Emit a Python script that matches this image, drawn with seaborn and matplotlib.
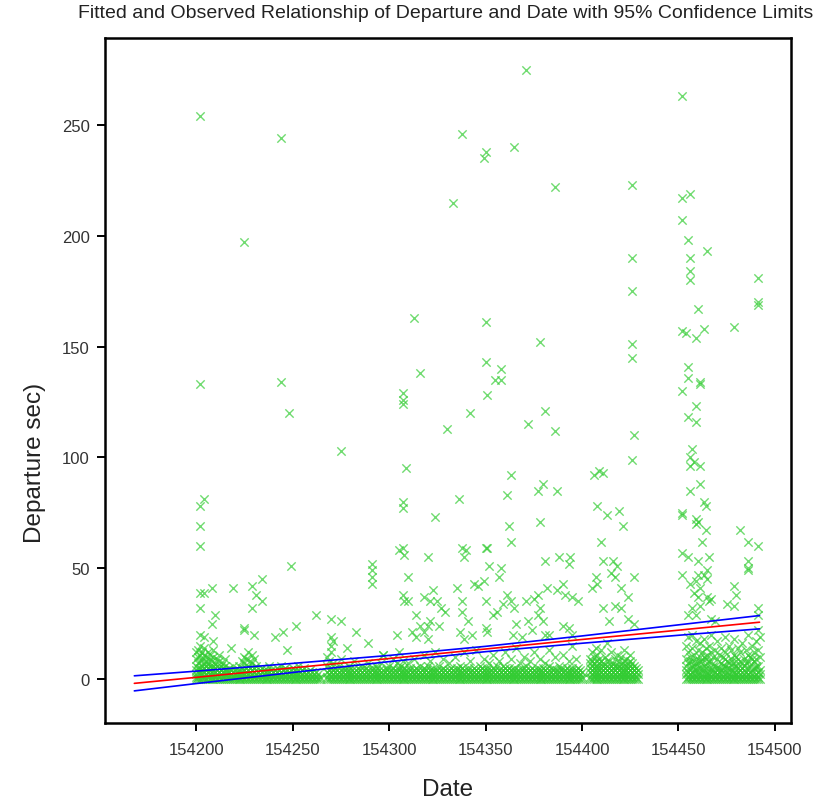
import matplotlib
matplotlib.use("Agg")
import pandas as pd
import matplotlib.pyplot as plt
import seaborn as sns

# outliers above the dense band, (date, departure sec)
outliers_early = [
    (154202, 254), (154244, 244), (154225, 197), (154202, 133), (154244, 134), (154248, 120), (154275, 103),
    (154204, 81), (154202, 78), (154202, 69), (154202, 60), (154202, 39), (154204, 39), (154208, 41),
    (154202, 32), (154210, 29), (154208, 25), (154219, 41), (154229, 42), (154234, 45), (154231, 38),
    (154234, 35), (154229, 32), (154249, 51), (154291, 52), (154291, 49), (154291, 46), (154291, 43),
    (154262, 29), (154270, 27), (154275, 26), (154283, 21), (154252, 24), (154245, 21), (154241, 19),
    (154225, 23), (154225, 22), (154230, 20), (154202, 20), (154204, 19), (154209, 17), (154218, 14),
    (154247, 13), (154289, 16), (154297, 11), (154270, 19), (154271, 17), (154270, 15), (154278, 14),
]
outliers_mid = [
    (154371, 275), (154338, 246), (154350, 238), (154349, 235), (154365, 240), (154386, 222), (154333, 215),
    (154313, 163), (154350, 161), (154378, 152), (154350, 143), (154358, 140), (154316, 138), (154355, 135),
    (154358, 135), (154307, 129), (154307, 126), (154307, 124), (154351, 128), (154342, 120), (154381, 121),
    (154330, 113), (154372, 115), (154386, 112), (154309, 95), (154363, 92), (154307, 80), (154307, 77),
    (154336, 81), (154324, 73), (154361, 83), (154377, 85), (154380, 88), (154387, 85), (154378, 71),
    (154362, 69), (154363, 62), (154305, 58), (154307, 59), (154308, 56), (154320, 55), (154338, 59),
    (154340, 58), (154339, 55), (154350, 59), (154351, 59), (154381, 53), (154388, 55), (154394, 55),
    (154393, 52), (154352, 51), (154358, 50), (154357, 46), (154310, 46), (154335, 41), (154344, 43),
    (154346, 42), (154349, 44), (154323, 40), (154318, 37), (154321, 35), (154325, 35), (154327, 32),
    (154329, 30), (154307, 38), (154308, 35), (154310, 35), (154338, 35), (154338, 30), (154341, 26),
    (154350, 35), (154361, 38), (154363, 35), (154359, 34), (154365, 32), (154371, 35), (154375, 36),
    (154377, 38), (154382, 41), (154387, 40), (154390, 43), (154391, 38), (154395, 37), (154398, 35),
    (154356, 30), (154354, 29), (154314, 29), (154316, 24), (154320, 24), (154321, 26), (154326, 24),
    (154312, 21), (154314, 19), (154318, 21), (154320, 18), (154304, 20), (154337, 21), (154339, 18),
    (154343, 20), (154350, 23), (154351, 21), (154366, 25), (154364, 20), (154369, 19), (154372, 26),
    (154377, 29), (154378, 32), (154380, 26), (154374, 22), (154381, 20), (154383, 20), (154390, 24),
    (154393, 23), (154395, 20),
]
outliers_late = [
    (154426, 223), (154426, 190), (154426, 175), (154426, 151), (154426, 145), (154427, 110), (154426, 99),
    (154406, 92), (154409, 94), (154411, 93), (154408, 78), (154413, 74), (154419, 76), (154421, 69),
    (154410, 62), (154411, 53), (154416, 53), (154418, 51), (154415, 48), (154417, 46), (154427, 46),
    (154407, 46), (154408, 43), (154405, 41), (154420, 41), (154424, 37), (154411, 32), (154417, 33),
    (154420, 32), (154414, 26), (154424, 27), (154427, 25),
    (154452, 263), (154452, 217), (154456, 219), (154452, 207), (154455, 198), (154465, 193), (154456, 190),
    (154456, 184), (154456, 180), (154491, 181), (154491, 170), (154491, 169), (154460, 167), (154452, 157),
    (154454, 156), (154459, 154), (154463, 158), (154479, 159), (154455, 141), (154455, 136), (154461, 134),
    (154461, 133), (154452, 130), (154459, 123), (154455, 118), (154459, 116), (154457, 104), (154456, 100),
    (154458, 98), (154461, 96), (154456, 96), (154456, 85), (154461, 88), (154463, 80), (154464, 78),
    (154452, 74), (154452, 75), (154459, 72), (154460, 71), (154459, 70), (154464, 67), (154462, 62),
    (154482, 67), (154486, 62), (154491, 60), (154486, 53), (154486, 50), (154486, 49), (154452, 57),
    (154455, 55), (154460, 53), (154466, 55), (154465, 49), (154463, 47), (154460, 47), (154452, 47),
    (154456, 43), (154459, 44), (154461, 41), (154458, 39), (154465, 45), (154460, 37), (154465, 37),
    (154467, 36), (154461, 33), (154457, 32), (154455, 29), (154459, 29), (154466, 35), (154479, 42),
    (154480, 38), (154475, 34), (154479, 33), (154491, 32), (154491, 29), (154467, 27), (154469, 26),
]

# dense band near zero: date -> departures observed that day (estimated)
band_a = [
    (154200, [0, 1, 2, 4, 6, 9, 12]), (154201, [0, 1, 3, 5, 7, 10, 13]), (154202, [0, 2, 3, 5, 8, 11, 15]),
    (154203, [0, 1, 2, 4, 6, 9, 12]), (154204, [0, 1, 3, 5, 7, 11, 14]), (154205, [0, 2, 4, 6, 8, 10]),
    (154206, [0, 1, 3, 5, 7, 12]), (154207, [0, 2, 4, 6, 9, 11]), (154208, [0, 1, 3, 5, 8]),
    (154209, [0, 2, 4, 6, 10, 13]), (154210, [0, 1, 3, 5, 7]), (154211, [0, 2, 4, 6, 9]),
    (154212, [0, 1, 3, 5, 8, 11]), (154213, [0, 2, 4, 6]), (154214, [0, 1, 3, 5, 7]),
    (154215, [0, 2, 4, 6, 9]), (154216, [0, 1, 2, 4]), (154217, [0, 1, 3, 5]), (154218, [0, 2, 4]),
    (154219, [0, 1, 3, 6]), (154220, [0, 1, 2, 4]), (154221, [0, 2, 3]), (154222, [0, 1, 4, 6]),
    (154223, [0, 2, 3]), (154224, [0, 1, 3, 5, 8]), (154225, [0, 2, 4, 7, 10]), (154226, [0, 1, 3, 5, 9]),
    (154227, [0, 2, 4, 6, 12]), (154228, [0, 1, 3, 5, 8]), (154229, [0, 2, 4, 7, 11]),
    (154230, [0, 1, 3, 5, 9]), (154231, [0, 2, 4, 6]), (154232, [0, 1, 3]), (154233, [0, 2, 4]),
    (154234, [0, 1, 3, 5]), (154235, [0, 2, 4]), (154236, [0, 1, 3]), (154237, [0, 2, 4]),
    (154238, [0, 1, 3, 6]), (154239, [0, 2, 4]), (154240, [0, 1, 3]), (154241, [0, 2, 4]),
    (154242, [0, 1, 3, 5]), (154243, [0, 2, 4]), (154244, [0, 1, 3, 6]), (154245, [0, 2, 4]),
    (154246, [0, 1, 3, 5]), (154247, [0, 2, 4]), (154248, [0, 1, 3]), (154249, [0, 2, 4]),
    (154250, [0, 1, 3, 5]), (154251, [0, 2, 4]), (154252, [0, 1, 3]), (154253, [0, 2, 4, 6]),
    (154254, [0, 1, 3]), (154255, [0, 2, 4]), (154256, [0, 1, 3, 5]), (154257, [0, 2]),
    (154258, [0, 1, 3]), (154259, [0, 2, 4]), (154260, [0, 1, 3]), (154261, [0, 2]),
    (154262, [0, 1, 3]), (154263, [0, 2]), (154264, [0, 1]),
]
band_b = [
    (154268, [0, 1, 3, 6, 10]), (154269, [0, 2, 4, 8]), (154270, [0, 1, 3, 5, 12]), (154271, [0, 2, 4, 7]),
    (154272, [0, 1, 3, 5]), (154273, [0, 2, 4]), (154274, [0, 1, 3, 6]), (154275, [0, 2, 4, 9]),
    (154276, [0, 1, 3]), (154277, [0, 2, 4, 5]), (154278, [0, 1, 3]), (154279, [0, 2, 4, 6]),
    (154280, [0, 1, 3, 5]), (154281, [0, 2, 4]), (154282, [0, 1, 3, 8]), (154283, [0, 2, 4]),
    (154284, [0, 1, 3, 5]), (154285, [0, 2, 4]), (154286, [0, 1, 3, 6]), (154287, [0, 2, 4]),
    (154288, [0, 1, 3, 5]), (154289, [0, 2, 4, 7]), (154290, [0, 1, 3]), (154291, [0, 2, 4, 5]),
    (154292, [0, 1, 3]), (154293, [0, 2, 4, 6]), (154294, [0, 1, 3, 5]), (154295, [0, 2, 4]),
    (154296, [0, 1, 3, 7]), (154297, [0, 2, 4, 11]), (154298, [0, 1, 3]), (154299, [0, 2, 4, 5]),
    (154300, [0, 1, 3, 6]), (154301, [0, 2, 4]), (154302, [0, 1, 3, 5, 9]), (154303, [0, 2, 4]),
    (154304, [0, 1, 3, 7]), (154305, [0, 2, 4, 5, 12]), (154306, [0, 1, 3, 6]), (154307, [0, 2, 4, 8]),
    (154308, [0, 1, 3, 5]), (154309, [0, 2, 4]), (154310, [0, 1, 3, 7]), (154311, [0, 2, 4, 5]),
    (154312, [0, 1, 3]), (154313, [0, 2, 4, 9]), (154314, [0, 1, 3, 5]), (154315, [0, 2, 4]),
    (154316, [0, 1, 3, 6]), (154317, [0, 2, 4]), (154318, [0, 1, 3, 5, 11]), (154319, [0, 2, 4]),
    (154320, [0, 1, 3, 6]), (154321, [0, 2, 4, 8]), (154322, [0, 1, 3]), (154323, [0, 2, 4, 5]),
    (154324, [0, 1, 3, 12]), (154325, [0, 2, 4]), (154326, [0, 1, 3, 6]), (154327, [0, 2, 4]),
    (154328, [0, 1, 3, 5, 9]), (154329, [0, 2, 4]), (154330, [0, 1, 3]), (154331, [0, 2, 4, 7]),
    (154332, [0, 1, 3, 5]), (154333, [0, 2, 4]), (154334, [0, 1, 3, 10]), (154335, [0, 2, 4, 5]),
    (154336, [0, 1, 3]), (154337, [0, 2, 4, 6]), (154338, [0, 1, 3, 5]), (154339, [0, 2, 4, 12]),
    (154340, [0, 1, 3]), (154341, [0, 2, 4, 5]), (154342, [0, 1, 3, 8]), (154343, [0, 2, 4]),
    (154344, [0, 1, 3, 5]), (154345, [0, 2, 4, 13]), (154346, [0, 1, 3]), (154347, [0, 2, 4, 6]),
    (154348, [0, 1, 3, 5]), (154349, [0, 2, 4, 9]), (154350, [0, 1, 3]), (154351, [0, 2, 4, 5]),
    (154352, [0, 1, 3, 7]), (154353, [0, 2, 4]), (154354, [0, 1, 3, 5, 11]), (154355, [0, 2, 4]),
    (154356, [0, 1, 3, 6]), (154357, [0, 2, 4, 8]), (154358, [0, 1, 3]), (154359, [0, 2, 4, 6]),
    (154360, [0, 1, 3, 5, 12]), (154361, [0, 2, 4]), (154362, [0, 1, 3, 5]), (154363, [0, 2, 4, 9]),
    (154364, [0, 1, 3]), (154365, [0, 2, 4, 5]), (154366, [0, 1, 3, 14]), (154367, [0, 2, 4]),
    (154368, [0, 1, 3, 7]), (154369, [0, 2, 4, 5]), (154370, [0, 1, 3, 10]), (154371, [0, 2, 4, 6]),
    (154372, [0, 1, 3]), (154373, [0, 2, 4, 8]), (154374, [0, 1, 3, 5]), (154375, [0, 2, 4, 12]),
    (154376, [0, 1, 3]), (154377, [0, 2, 4, 5]), (154378, [0, 1, 3, 9]), (154379, [0, 2, 4]),
    (154380, [0, 1, 3, 5]), (154381, [0, 2, 4, 7]), (154382, [0, 1, 3]), (154383, [0, 2, 4, 6, 13]),
    (154384, [0, 1, 3]), (154385, [0, 2, 4, 5]), (154386, [0, 1, 3, 10]), (154387, [0, 2, 4]),
    (154388, [0, 1, 3, 6]), (154389, [0, 2, 4, 5]), (154390, [0, 1, 3, 11]), (154391, [0, 2, 4]),
    (154392, [0, 1, 3, 5]), (154393, [0, 2, 4, 8]), (154394, [0, 1, 3]), (154395, [0, 2, 4, 5, 15]),
    (154396, [0, 1, 3]), (154397, [0, 2, 4, 9]), (154398, [0, 1, 3, 5]), (154399, [0, 2, 4]),
    (154400, [0, 1, 3]),
]
band_c = [
    (154404, [0, 1, 3, 5, 7, 9]), (154405, [0, 2, 4, 6, 8, 12]), (154406, [0, 1, 3, 5, 7, 10]),
    (154407, [0, 2, 4, 6, 8, 14]), (154408, [0, 1, 3, 5, 6, 11]), (154409, [0, 2, 4, 7, 9]),
    (154410, [0, 1, 3, 5, 8, 13]), (154411, [0, 2, 4, 6, 7]), (154412, [0, 1, 3, 5, 10]),
    (154413, [0, 2, 4, 6, 8, 16]), (154414, [0, 1, 3, 5, 8]), (154415, [0, 2, 4, 6, 12]),
    (154416, [0, 1, 3, 5, 7]), (154417, [0, 2, 4, 6, 9]), (154418, [0, 1, 3, 5, 6, 11]),
    (154419, [0, 2, 4, 6, 8]), (154420, [0, 1, 3, 5, 10]), (154421, [0, 2, 4, 6, 7]),
    (154422, [0, 1, 3, 4, 8, 13]), (154423, [0, 2, 4, 6, 9]), (154424, [0, 1, 3, 5, 7]),
    (154425, [0, 2, 4, 6, 8, 11]), (154426, [0, 1, 3, 5, 7]), (154427, [0, 2, 4, 6]),
    (154428, [0, 1, 3, 5]), (154429, [0, 2, 4]),
]
band_d = [
    (154454, [0, 2, 4, 6, 9, 15]), (154455, [0, 1, 3, 7, 12, 19]), (154456, [0, 2, 5, 8, 10]),
    (154457, [0, 1, 3, 6, 8, 14, 20]), (154458, [0, 2, 4, 6, 11]), (154459, [0, 1, 4, 7, 9, 17]),
    (154460, [0, 2, 3, 5, 7, 13]), (154461, [0, 1, 5, 8, 10, 16]), (154462, [0, 2, 4, 8, 12]),
    (154463, [0, 1, 4, 6, 10, 18]), (154464, [0, 2, 5, 9, 14]), (154465, [0, 1, 3, 7, 11]),
    (154466, [0, 2, 5, 8, 15]), (154467, [0, 1, 4, 8, 12, 20]), (154468, [0, 2, 4, 6, 10]),
    (154469, [0, 1, 3, 6, 13]), (154470, [0, 2, 5, 9, 17]), (154471, [0, 1, 3, 5, 11]),
    (154472, [0, 2, 4, 7, 14]), (154473, [0, 1, 4, 6, 10]), (154474, [0, 2, 6, 9, 12, 19]),
    (154475, [0, 1, 3, 5, 8]), (154476, [0, 2, 5, 7, 15]), (154477, [0, 1, 4, 9, 13]),
    (154478, [0, 2, 4, 7]), (154479, [0, 1, 3, 6, 11, 18]), (154480, [0, 2, 6, 8, 10]),
    (154481, [0, 1, 3, 5, 14]), (154482, [0, 2, 4, 8, 12]), (154483, [0, 1, 5, 7, 16]),
    (154484, [0, 2, 4, 6, 9]), (154485, [0, 1, 3, 7, 13]), (154486, [0, 2, 5, 8, 11, 20]),
    (154487, [0, 1, 3, 6, 10]), (154488, [0, 2, 4, 9, 15]), (154489, [0, 1, 5, 8, 12]),
    (154490, [0, 2, 5, 6, 9, 17]), (154491, [0, 1, 3, 6, 13, 22]), (154492, [0, 2, 4, 10, 19]),
]

# fitted line and 95% confidence limits, read at a few dates
fit_date = [154168, 154200, 154250, 154300, 154350, 154400, 154450, 154492]
fit_mid = [-2.0, 0.7, 5.0, 9.2, 13.5, 17.8, 22.0, 25.6]
fit_upper = [1.4, 3.5, 7.0, 10.6, 14.7, 19.4, 24.4, 28.6]
fit_lower = [-5.4, -2.1, 2.9, 7.8, 12.3, 16.1, 19.7, 22.6]

x_ticks = [154200, 154250, 154300, 154350, 154400, 154450, 154500]
y_ticks = [0, 50, 100, 150, 200, 250]

# build one long table of observations
rows = outliers_early + outliers_mid + outliers_late
for seg in (band_a, band_b, band_c, band_d):
    for d, secs in seg:
        for s in secs:
            rows.append((d, s))
obs = pd.DataFrame(rows, columns=["date", "departure"])
fit = pd.DataFrame({"date": fit_date, "mid": fit_mid, "upper": fit_upper, "lower": fit_lower})

sns.set_theme(style="white")
plt.rcParams["font.family"] = ["Liberation Sans", "DejaVu Sans"]

fig = plt.figure(figsize=(8.23, 8.04), dpi=100)
ax = fig.add_axes([0.1276, 0.0995, 0.8335, 0.852])

sns.scatterplot(data=obs, x="date", y="departure", ax=ax, marker="x", s=36,
                color="#33CC33", alpha=0.7, linewidth=1.0, zorder=2)
sns.lineplot(data=fit, x="date", y="mid", ax=ax, color="red", linewidth=1.2, estimator=None, zorder=3)
sns.lineplot(data=fit, x="date", y="upper", ax=ax, color="blue", linewidth=1.2, estimator=None, zorder=3)
sns.lineplot(data=fit, x="date", y="lower", ax=ax, color="blue", linewidth=1.2, estimator=None, zorder=3)

ax.set_xlim(154152.8, 154508.3)
ax.set_ylim(-19.9, 289.3)
ax.set_xticks(x_ticks)
ax.set_yticks(y_ticks)
ax.ticklabel_format(useOffset=False, style="plain", axis="x")

for sp in ax.spines.values():
    sp.set_visible(True)
    sp.set_color("black")
    sp.set_linewidth(1.8)
ax.tick_params(axis="both", which="major", direction="out", length=6, width=1.4,
               color="black", labelsize=12, labelcolor="#333333", bottom=True, left=True)
ax.tick_params(axis="x", pad=8)
ax.tick_params(axis="y", pad=5)

ax.set_xlabel("Date", fontsize=17.5, color="#222222", va="center")
ax.xaxis.set_label_coords(0.5, -0.0964)
ax.set_ylabel("Departure sec)", fontsize=17.5, color="#222222", va="center")
ax.yaxis.set_label_coords(-0.102, 0.381)
fig.text(0.542, 0.983, "Fitted and Observed Relationship of Departure and Date with 95% Confidence Limits",
         ha="center", va="center", fontsize=14, color="#222222")

fig.savefig("out.png", dpi=100)
